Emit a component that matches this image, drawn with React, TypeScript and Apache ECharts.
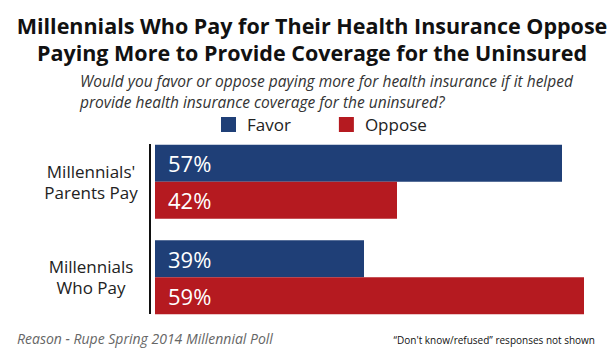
import React, { useEffect, useRef } from "react";
import * as echarts from "echarts";

const categories = ["Millennials'\nParents Pay", "Millennials\nWho Pay"];
const favor = [57, 39];
const oppose = [42, 59];
const seriesNames = ["Favor", "Oppose"];
const title = "Millennials Who Pay for Their Health Insurance Oppose\nPaying More to Provide Coverage for the Uninsured";
const subtitle = "Would you favor or oppose paying more for health insurance if it helped\nprovide health insurance coverage for the uninsured?";
const sourceNote = "Reason - Rupe Spring 2014 Millennial Poll";
const footNote = "\u201cDon't know/refused\u201d responses not shown";

const FONT = "Open Sans";
const BLUE = "#1f3f77";
const RED = "#b51a20";

export default function App() {
  const ref = useRef<HTMLDivElement>(null);
  useEffect(() => {
    const chart = echarts.init(ref.current!, null, { renderer: "svg" });
    const label = {
      show: true,
      position: "insideLeft",
      distance: 13,
      color: "#ffffff",
      fontFamily: FONT,
      fontSize: 22,
      formatter: (p: any) => p.value + "%",
    };
    chart.setOption({
      animation: false,
      backgroundColor: "#ffffff",
      textStyle: { fontFamily: FONT },
      title: [
        {
          text: title,
          left: 307,
          top: 7,
          textAlign: "center",
          textStyle: { fontFamily: FONT, fontWeight: "bold", fontSize: 21.5, lineHeight: 27, color: "#111" },
        },
        {
          text: subtitle,
          left: 75,
          top: 65,
          textStyle: { fontFamily: FONT, fontStyle: "italic", fontWeight: "normal", fontSize: 15.5, lineHeight: 21, color: "#333" },
        },
        {
          text: sourceNote,
          left: 12,
          top: 326,
          textStyle: { fontFamily: FONT, fontStyle: "italic", fontWeight: "normal", fontSize: 14, color: "#666" },
        },
        {
          text: footNote,
          right: 14,
          top: 330,
          textStyle: { fontFamily: FONT, fontWeight: "normal", fontSize: 10, color: "#111" },
        },
      ],
      legend: {
        data: seriesNames,
        top: 111,
        left: 216,
        icon: "rect",
        itemWidth: 15,
        itemHeight: 15,
        itemGap: 48,
        textStyle: { fontFamily: FONT, fontSize: 17, color: "#222", padding: [0, 0, 0, 6] },
      },
      grid: { left: 155, width: 440, top: 134, height: 191 },
      xAxis: { type: "value", min: 20, max: 60, show: false },
      yAxis: {
        type: "category",
        data: categories,
        inverse: true,
        axisLine: { show: false },
        axisTick: { show: false },
        axisLabel: {
          margin: 64,
          align: "center",
          fontFamily: FONT,
          fontSize: 17,
          lineHeight: 21,
          color: "#222",
        },
      },
      graphic: [
        {
          type: "line",
          shape: { x1: 150, y1: 144, x2: 150, y2: 314 },
          style: { stroke: "#111", lineWidth: 2 },
        },
      ],
      series: [
        { name: seriesNames[0], type: "bar", data: favor, barWidth: 37, barGap: "0%", itemStyle: { color: BLUE }, label },
        { name: seriesNames[1], type: "bar", data: oppose, barWidth: 37, barGap: "0%", itemStyle: { color: RED }, label },
      ],
    });
    return () => chart.dispose();
  }, []);
  return <div ref={ref} style={{ width: 614, height: 358, position: "absolute", left: 0, top: 0 }} />;
}
